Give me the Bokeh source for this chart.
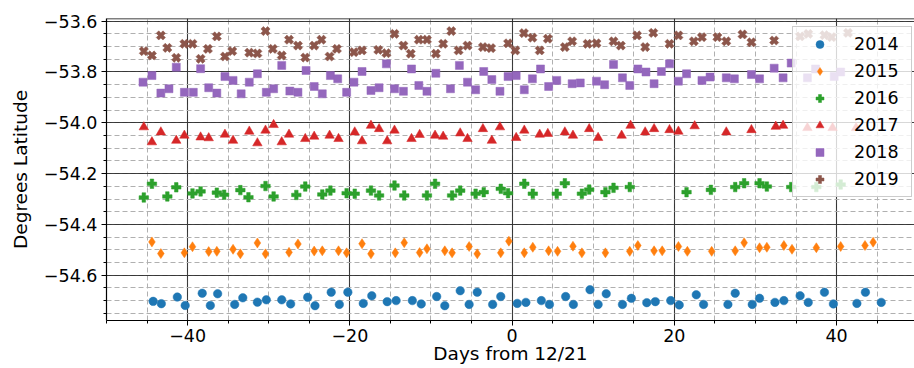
import numpy as np
from bokeh.plotting import figure
from bokeh.models import (Range1d, SingleIntervalTicker, CustomJSTickFormatter,
                          Legend, LegendItem, ColumnDataSource, Span)
from bokeh.embed import file_html
from bokeh.resources import INLINE

# ---------------- data ----------------
years = ["2014", "2015", "2016", "2017", "2018", "2019"]
colors = ["#1f77b4", "#ff7f0e", "#2ca02c", "#d62728", "#9467bd", "#8c564b"]

x2014 = [-44.25, -43.24, -41.27, -40.3, -38.2, -37.2, -36.3, -34.2, -33.2, -31.4,
         -30.3, -28.4, -27.3, -25.2, -24.3, -22.3, -21.3, -20.25, -18.35, -17.3,
         -15.4, -14.3, -12.3, -11.2, -9.3, -8.3, -6.4, -5.3, -4.3, -2.4,
         -1.4, 0.63, 1.7, 3.6, 4.6, 6.6, 7.55, 9.6, 10.6, 11.6,
         13.6, 14.7, 16.6, 17.65, 19.55, 20.6, 22.7, 23.6, 26.6, 27.5,
         29.6, 30.5, 32.4, 33.5, 35.5, 36.5, 38.5, 39.6, 42.5, 43.55,
         45.5]
y2014 = [-54.703, -54.712, -54.686, -54.719, -54.671, -54.719, -54.673, -54.715, -54.689, -54.706,
         -54.697, -54.697, -54.713, -54.687, -54.720, -54.667, -54.715, -54.667, -54.711, -54.681,
         -54.704, -54.700, -54.700, -54.713, -54.684, -54.720, -54.661, -54.715, -54.667, -54.715,
         -54.684, -54.711, -54.707, -54.700, -54.715, -54.684, -54.715, -54.657, -54.715, -54.673,
         -54.715, -54.691, -54.708, -54.704, -54.700, -54.717, -54.677, -54.715, -54.715, -54.671,
         -54.715, -54.691, -54.707, -54.700, -54.681, -54.707, -54.667, -54.713, -54.711, -54.667,
         -54.707]

x2015 = [-44.4, -43.3, -40.4, -39.4, -37.4, -36.4, -34.4, -33.5, -31.4, -30.4,
         -27.5, -26.4, -24.4, -23.4, -21.4, -20.4, -18.5, -17.4, -14.4, -13.3,
         -11.4, -10.5, -8.3, -7.4, -5.3, -4.3, -1.4, -0.4, 1.5, 2.55,
         4.5, 5.6, 7.5, 8.6, 11.5, 14.5, 15.5, 17.5, 18.5, 20.5,
         21.6, 24.6, 27.5, 28.6, 30.5, 31.4, 33.5, 34.5, 37.5, 40.5,
         43.5, 44.5]
y2015 = [-54.469, -54.515, -54.512, -54.488, -54.507, -54.506, -54.498, -54.516, -54.473, -54.516,
         -54.510, -54.477, -54.505, -54.504, -54.504, -54.512, -54.476, -54.516, -54.512, -54.472,
         -54.511, -54.496, -54.504, -54.512, -54.487, -54.516, -54.512, -54.466, -54.512, -54.490,
         -54.504, -54.506, -54.486, -54.512, -54.512, -54.506, -54.483, -54.504, -54.504, -54.487,
         -54.506, -54.506, -54.504, -54.472, -54.492, -54.490, -54.483, -54.498, -54.492, -54.487,
         -54.483, -54.470]

x2016 = [-45.4, -44.4, -42.5, -41.4, -39.4, -38.4, -36.4, -35.5, -33.5, -32.5,
         -30.4, -29.4, -26.6, -25.5, -23.4, -22.4, -20.4, -19.4, -17.4, -16.4,
         -14.5, -13.3, -10.5, -9.5, -7.4, -6.4, -4.5, -3.5, -1.4, -0.5,
         1.5, 2.55, 5.5, 6.5, 8.6, 9.5, 11.5, 12.5, 14.5, 21.5,
         24.5, 27.5, 28.6, 30.5, 31.4, 34.4, 37.5, 40.5]
y2016 = [-54.294, -54.240, -54.290, -54.254, -54.278, -54.270, -54.275, -54.283, -54.265, -54.293,
         -54.249, -54.290, -54.284, -54.251, -54.282, -54.267, -54.277, -54.279, -54.267, -54.286,
         -54.247, -54.286, -54.286, -54.240, -54.286, -54.267, -54.279, -54.273, -54.260, -54.277,
         -54.240, -54.279, -54.279, -54.238, -54.279, -54.263, -54.273, -54.256, -54.253, -54.273,
         -54.264, -54.253, -54.238, -54.238, -54.251, -54.253, -54.253, -54.243]

x2017 = [-45.4, -44.4, -43.3, -41.4, -40.4, -38.4, -37.4, -35.4, -34.4, -32.4,
         -31.4, -30.4, -29.4, -28.4, -27.5, -25.5, -24.4, -22.5, -21.4, -19.4,
         -18.5, -17.4, -16.4, -15.4, -14.5, -12.4, -11.4, -9.5, -8.5, -6.4,
         -5.5, -3.6, -2.5, -1.5, 0.5, 1.5, 3.4, 4.4, 6.5, 7.5,
         9.5, 10.6, 13.5, 14.6, 16.4, 17.5, 19.4, 20.5, 22.5, 26.4,
         29.5, 32.5, 33.4, 36.4, 39.5, 42.4]
y2017 = [-54.017, -54.076, -54.037, -54.070, -54.050, -54.057, -54.060, -54.046, -54.070, -54.034,
         -54.080, -54.030, -54.008, -54.076, -54.046, -54.063, -54.054, -54.050, -54.063, -54.037,
         -54.072, -54.011, -54.024, -54.072, -54.030, -54.063, -54.047, -54.050, -54.054, -54.041,
         -54.063, -54.024, -54.070, -54.017, -54.059, -54.030, -54.046, -54.043, -54.037, -54.050,
         -54.024, -54.059, -54.050, -54.011, -54.037, -54.024, -54.028, -54.034, -54.013, -54.037,
         -54.028, -54.015, -54.011, -54.020, -54.020, -54.020]

x2018 = [-45.5, -44.4, -43.3, -42.3, -41.4, -40.4, -39.3, -38.4, -37.4, -36.4,
         -35.4, -34.4, -33.4, -32.4, -31.4, -30.3, -29.4, -28.4, -27.4, -26.4,
         -25.4, -24.4, -23.4, -22.4, -21.5, -20.4, -19.5, -18.5, -17.4, -16.4,
         -15.5, -14.5, -13.4, -12.4, -11.5, -10.5, -9.4, -7.6, -6.5, -5.5,
         -4.5, -3.5, -2.5, -1.5, -0.5, 0.5, 1.5, 2.5, 3.5, 4.5,
         5.5, 7.4, 8.4, 10.4, 11.4, 12.5, 13.6, 14.5, 15.5, 16.5,
         17.5, 18.4, 19.4, 20.5, 21.5, 23.4, 24.4, 26.4, 27.4, 29.5,
         30.5, 32.3, 33.4, 34.4, 36.4, 37.4, 39.7, 40.5]
y2018 = [-53.840, -53.814, -53.883, -53.866, -53.781, -53.880, -53.880, -53.787, -53.862, -53.883,
         -53.818, -53.833, -53.886, -53.840, -53.807, -53.880, -53.866, -53.774, -53.875, -53.880,
         -53.794, -53.857, -53.886, -53.814, -53.827, -53.880, -53.840, -53.798, -53.873, -53.862,
         -53.768, -53.866, -53.876, -53.788, -53.853, -53.876, -53.805, -53.866, -53.774, -53.840,
         -53.870, -53.798, -53.830, -53.876, -53.818, -53.814, -53.870, -53.827, -53.788, -53.857,
         -53.833, -53.846, -53.843, -53.836, -53.850, -53.770, -53.823, -53.853, -53.788, -53.800,
         -53.846, -53.798, -53.768, -53.836, -53.807, -53.833, -53.820, -53.823, -53.827, -53.810,
         -53.827, -53.785, -53.823, -53.765, -53.823, -53.788, -53.818, -53.800]

x2019 = [-45.4, -44.4, -43.3, -42.5, -41.4, -40.4, -39.4, -38.4, -37.5, -36.4,
         -35.4, -34.5, -32.4, -31.4, -30.4, -29.5, -28.4, -27.5, -26.4, -25.5,
         -24.4, -23.5, -22.5, -21.6, -19.5, -18.5, -16.5, -15.5, -14.5, -13.4,
         -12.5, -11.5, -10.5, -9.4, -8.5, -7.5, -6.6, -5.5, -3.6, -2.6,
         -0.5, 0.4, 1.45, 2.5, 3.4, 4.4, 6.5, 7.4, 9.3, 10.4,
         12.5, 13.4, 15.4, 16.4, 17.4, 19.4, 20.5, 22.4, 23.4, 25.3,
         26.4, 28.4, 29.5, 32.3, 35.5, 36.5, 38.5, 39.4, 41.4]
y2019 = [-53.718, -53.735, -53.656, -53.705, -53.744, -53.689, -53.689, -53.748, -53.709, -53.660,
         -53.739, -53.718, -53.724, -53.727, -53.639, -53.709, -53.735, -53.673, -53.696, -53.743,
         -53.696, -53.673, -53.739, -53.709, -53.722, -53.715, -53.713, -53.726, -53.650, -53.696,
         -53.728, -53.673, -53.673, -53.728, -53.689, -53.639, -53.715, -53.696, -53.702, -53.706,
         -53.687, -53.715, -53.647, -53.665, -53.715, -53.669, -53.702, -53.679, -53.689, -53.687,
         -53.679, -53.696, -53.656, -53.702, -53.646, -53.689, -53.656, -53.679, -53.663, -53.663,
         -53.679, -53.652, -53.683, -53.676, -53.660, -53.650, -53.655, -53.663, -53.646]

xs = [x2014, x2015, x2016, x2017, x2018, x2019]
ys = [y2014, y2015, y2016, y2017, y2018, y2019]

x_label = "Days from 12/21"
y_label = "Degrees Latitude"

FONT = "DejaVu Sans"
Y_TOP = -53.5894

# ---------------- figure ----------------
p = figure(width=914, height=368, output_backend="svg", toolbar_location=None,
           x_range=Range1d(-50.0, 49.6), y_range=Range1d(-54.7783, Y_TOP),
           min_border_left=106, min_border_right=0, min_border_top=18, min_border_bottom=48)
p.background_fill_color = "white"
p.border_fill_color = "white"
p.outline_line_color = None   # the right spine lies outside the cropped picture

p.xaxis.ticker = SingleIntervalTicker(interval=20, num_minor_ticks=4)
p.yaxis.ticker = SingleIntervalTicker(interval=0.2, num_minor_ticks=4)
p.xaxis.formatter = CustomJSTickFormatter(code="return tick.toFixed(0).replace('-', '\\u2212');")
p.yaxis.formatter = CustomJSTickFormatter(code="return tick.toFixed(1).replace('-', '\\u2212');")

for ax in (p.xaxis[0], p.yaxis[0]):
    ax.axis_line_color = "black"
    ax.axis_line_width = 1.2
    ax.major_tick_line_color = "black"
    ax.minor_tick_line_color = "black"
    ax.major_tick_out = 5
    ax.major_tick_in = 0
    ax.minor_tick_out = 3
    ax.minor_tick_in = 0
    ax.major_label_text_font = FONT
    ax.major_label_text_font_size = "17.5px"
    ax.major_label_text_color = "black"
    ax.axis_label_text_font = FONT
    ax.axis_label_text_font_size = "18.5px"
    ax.axis_label_text_font_style = "normal"
    ax.axis_label_text_color = "black"

p.xaxis.axis_label = x_label
p.xaxis.major_label_standoff = 3
p.xaxis.axis_label_standoff = -2
p.yaxis.axis_label = y_label
p.yaxis.major_label_standoff = 4
p.yaxis.axis_label_standoff = 10

for g in (p.xgrid[0], p.ygrid[0]):
    g.grid_line_color = "#2a2a2a"
    g.grid_line_alpha = 0.9
    g.grid_line_width = 1.1
    g.minor_grid_line_color = "#b0b0b0"
    g.minor_grid_line_dash = "5 3"
    g.minor_grid_line_width = 1

# top spine
p.add_layout(Span(location=Y_TOP, dimension="width", line_color="black", line_width=1.5))

markers = [("circle", 8.5, 0.0), ("diamond", 10, 0.0), ("plus", 9.5, 0.0),
           ("triangle", 9.5, 0.0), ("square", 8, 0.0), ("plus", 9.5, np.pi / 4)]

items = []
for yr, c, xv, yv, (mk, sz, ang) in zip(years, colors, xs, ys, markers):
    src = ColumnDataSource(data=dict(x=xv, y=yv))
    r = p.scatter("x", "y", source=src, marker=mk, size=sz, angle=ang,
                  fill_color=c, line_color=c, line_width=0.5)
    items.append(LegendItem(label=yr, renderers=[r]))

legend = Legend(items=items, location=(686, 123))
legend.margin = 0
legend.padding = 7
legend.spacing = 7
legend.glyph_width = 39
legend.glyph_height = 20
legend.label_standoff = 15
legend.label_width = 50
legend.label_height = 20
legend.label_text_font = FONT
legend.label_text_font_size = "17.5px"
legend.label_text_color = "black"
legend.background_fill_color = "white"
legend.background_fill_alpha = 0.8
legend.border_line_color = "#cccccc"
legend.border_line_alpha = 1
legend.border_line_width = 1
p.add_layout(legend)

open("out.html", "w").write(file_html(p, INLINE))
